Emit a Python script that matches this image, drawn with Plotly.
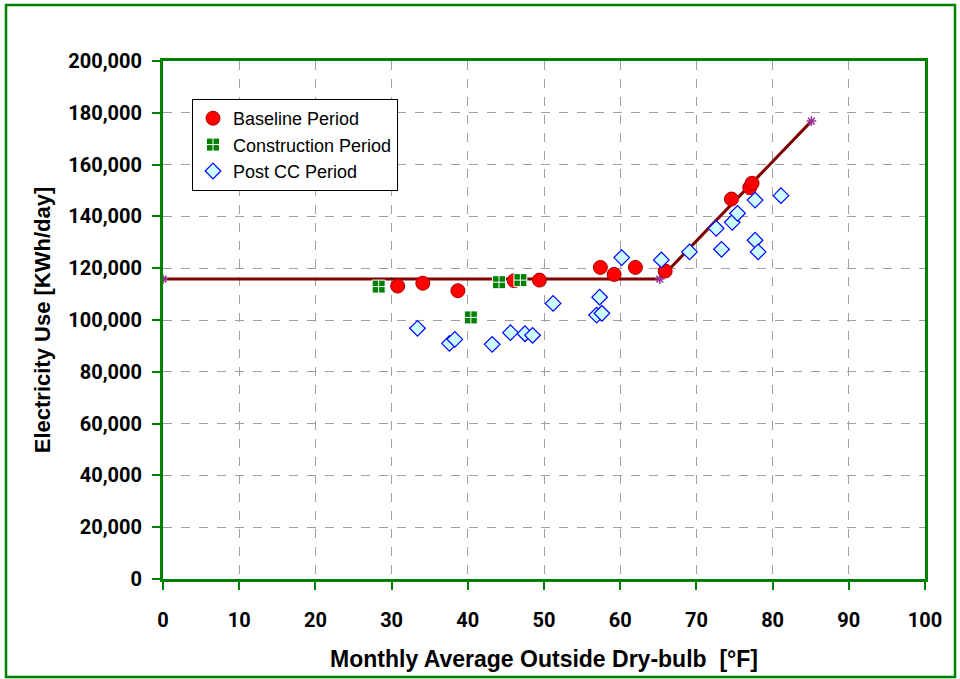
import plotly.graph_objects as go

# Data
baseline_x = [30.8, 34.1, 38.7, 46.1, 49.4, 57.4, 59.2, 62.0, 65.9, 74.6, 77.0, 77.3]
baseline_y = [113100, 114200, 111300, 115200, 115400, 120300, 117600, 120300, 118900, 146700, 151100, 152800]

construction_x = [28.3, 40.4, 44.1, 46.9]
construction_y = [112900, 101000, 114600, 115400]

post_x = [33.4, 37.6, 38.3, 43.2, 45.6, 47.5, 48.5, 51.2, 56.9, 57.3, 57.6, 60.2,
          65.4, 69.1, 72.6, 73.3, 74.7, 75.4, 77.7, 77.7, 78.1, 81.1]
post_y = [96800, 91000, 92500, 90600, 95100, 94700, 94100, 106400, 101900, 108800, 102600, 124100,
          123200, 126300, 135400, 127300, 137700, 141200, 146300, 130800, 126300, 148000]

model_x = [0, 65.2, 85.1]
model_y = [115800, 115800, 176800]

x_ticks = list(range(0, 101, 10))
y_ticks = list(range(0, 200001, 20000))

FONT = "Liberation Sans, Arial, sans-serif"
TICKFONT = "Roboto, Liberation Sans, sans-serif"
GREEN = "#008000"

fig = go.Figure()

fig.add_trace(go.Scatter(
    x=model_x, y=model_y, mode="lines+markers", showlegend=False,
    line=dict(color="#800000", width=3),
    marker=dict(symbol="asterisk", size=8, line=dict(color="#993399", width=1.5)),
))

fig.add_trace(go.Scatter(
    x=baseline_x, y=baseline_y, mode="markers", name="Baseline Period",
    marker=dict(symbol="circle", size=14, color="#ff0000", line=dict(color="#aa0000", width=1)),
))
fig.add_trace(go.Scatter(
    x=construction_x, y=construction_y, mode="markers", name="Construction Period",
    marker=dict(symbol="square-cross", size=13, color="#008000", line=dict(color="white", width=1)),
))
fig.add_trace(go.Scatter(
    x=post_x, y=post_y, mode="markers", name="Post CC Period",
    marker=dict(symbol="diamond", size=12, color="#ccffff", line=dict(color="#0000ff", width=1.2)),
))

L, R, T, B = 163, 35, 61, 100
W, H = 960, 679
pw, ph = W - L - R, H - T - B

# outer green frame
fig.add_shape(type="rect", xref="paper", yref="paper",
              x0=(6 - L) / pw, x1=(955 - L) / pw,
              y0=(H - B - 677) / ph, y1=(H - B - 5) / ph,
              line=dict(color=GREEN, width=2.5), layer="below")

axis_common = dict(
    showline=True, linecolor=GREEN, linewidth=3, mirror=True,
    ticks="outside", tickcolor=GREEN, ticklen=8, tickwidth=2,
    showgrid=True, gridcolor="#a0a0a0", griddash="dash", gridwidth=1,
    zeroline=False,
    tickfont=dict(family=TICKFONT, size=20, color="black", weight="bold"),
)

fig.update_xaxes(range=[0, 100], tickvals=x_ticks, ticklabelstandoff=13, **axis_common,
                 title=dict(text="Monthly Average Outside Dry-bulb  [°F]", standoff=20,
                            font=dict(family=FONT, size=23, color="black", weight="bold")))
fig.update_yaxes(range=[0, 200000], tickvals=y_ticks, tickformat=",d", ticklabelstandoff=6,
                 **axis_common,
                 title=dict(text="Electricity Use [KWh/day]", standoff=12,
                            font=dict(family=FONT, size=22, color="black", weight="bold")))

fig.update_layout(
    width=W, height=H,
    margin=dict(l=L, r=R, t=T, b=B),
    paper_bgcolor="white", plot_bgcolor="white",
    legend=dict(x=(192 - L) / pw, y=(H - B - 99) / ph, xanchor="left", yanchor="top",
                bgcolor="white", bordercolor="black", borderwidth=1,
                font=dict(family=FONT, size=18, color="black"),
                itemwidth=30, tracegroupgap=4),
)

fig.write_html("out.html", config={"displayModeBar": False},
               post_script="document.body.style.margin='0';")
